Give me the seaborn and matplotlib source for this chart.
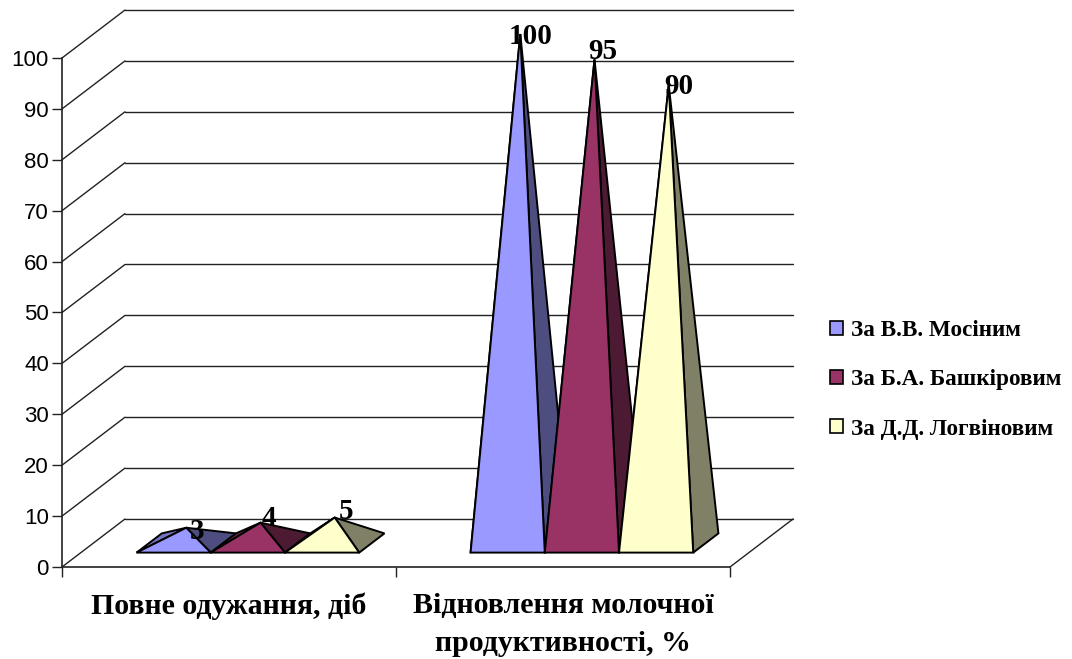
# -*- coding: utf-8 -*-
import matplotlib
matplotlib.use('Agg')
import matplotlib.pyplot as plt
import seaborn as sns
import pandas as pd
from matplotlib.patches import Patch, Polygon

categories = ['Повне одужання, діб', 'Відновлення молочної\nпродуктивності, %']
authors = ['За В.В. Мосіним', 'За Б.А. Башкіровим', 'За Д.Д. Логвіновим']
mosin = [3, 100]
bashkirov = [4, 95]
logvinov = [5, 90]
yticks = [0, 10, 20, 30, 40, 50, 60, 70, 80, 90, 100]

front_cols = ['#9999FF', '#993366', '#FFFFCC']
left_cols = ['#7373BF', '#73264D', '#BFBF99']
right_cols = ['#4D4D80', '#4D1A33', '#808066']

# label nudges in pixels from the apex, same order as bars are read
nudges = [(11, -4), (10, -3), (8, 4), (8, 8), (11, 6), (10, -2)]

# size of the 3D depth, in axis units
DX = 63 / 334
DY = 48 / 5.09

rows = []
for name, vals in zip(authors, [mosin, bashkirov, logvinov]):
    for cat, v in zip(categories, vals):
        rows.append({'cat': cat, 'author': name, 'value': v})
df = pd.DataFrame(rows)

sns.set_theme(style='ticks')
plt.rcParams['font.family'] = ['Liberation Serif', 'DejaVu Serif']

fig = plt.figure(figsize=(10.72, 6.59), dpi=100)
ax = fig.add_axes([62 / 1072, (659 - 567) / 659, 668 / 1072, 509 / 659])
ax.patch.set_alpha(0)

# seaborn lays out the bars, then they get redrawn as pyramids
sns.barplot(data=df, x='cat', y='value', hue='author', order=categories,
            hue_order=authors, width=2 / 3, gap=0, legend=False, ax=ax)
bars = [b for b in ax.patches]
ax.set_xlim(-0.5, 1.5)
ax.set_ylim(0, 100)

line = dict(color='#222222', lw=1, clip_on=False, zorder=1)
for t in yticks:
    ax.plot([-0.5, -0.5 + DX], [t, t + DY], **line)
    ax.plot([-0.5 + DX, 1.5 + DX], [t + DY, t + DY], **line)
ax.plot([1.5, 1.5 + DX], [0, DY], **line)

for i, b in enumerate(bars):
    b.set_visible(False)
    k = i // 2
    x0 = b.get_x() + 0.3 * DX
    x1 = x0 + b.get_width()
    v = b.get_height()
    y0 = 0.3 * DY
    sx = 0.4 * DX
    sy = 0.4 * DY
    apex = ((x0 + x1) / 2 + sx / 2, y0 + sy / 2 + v)
    z = 3 + k
    faces = [([(x0, y0), (x0 + sx, y0 + sy), apex], left_cols[k]),
             ([(x1, y0), (x1 + sx, y0 + sy), apex], right_cols[k]),
             ([(x0, y0), (x1, y0), apex], front_cols[k])]
    for pts, col in faces:
        ax.add_patch(Polygon(pts, closed=True, facecolor=col, edgecolor='black',
                             lw=1.4, joinstyle='miter', clip_on=False, zorder=z))
    nx, ny = nudges[i]
    ax.annotate(str(int(v)), xy=apex, xytext=(nx * 0.72, ny * 0.72),
                textcoords='offset points', ha='center', va='center',
                fontsize=21, fontweight='bold', color='black',
                annotation_clip=False, zorder=10)

sns.despine(ax=ax)
for s in ['left', 'bottom']:
    ax.spines[s].set_color('#222222')
    ax.spines[s].set_linewidth(1.2)

ax.set_xlabel('')
ax.set_ylabel('')
ax.set_yticks(yticks)
ax.set_yticklabels([str(t) for t in yticks], fontfamily='Liberation Sans', fontsize=16)
ax.tick_params(axis='y', length=7, width=1, color='#222222', pad=2.5, labelcolor='black')
ax.set_xticks([0, 1])
ax.set_xticklabels(categories, fontsize=21.5, fontweight='bold', linespacing=1.53)
ax.set_xticks([-0.5, 0.5, 1.5], minor=True)
ax.tick_params(axis='x', which='major', length=0, pad=18, labelcolor='black')
ax.tick_params(axis='x', which='minor', length=7, width=1, color='#222222')

handles = [Patch(facecolor=c, edgecolor='black', lw=1.2) for c in front_cols]
fig.legend(handles, authors, loc='center left', bbox_to_anchor=(809 / 1072, (659 - 380) / 659),
           frameon=False, prop={'family': 'Liberation Serif', 'weight': 'bold', 'size': 16.7},
           handlelength=0.56, handleheight=0.56, handletextpad=0.35, labelspacing=1.21,
           labelcolor='black')

fig.savefig('out.png', dpi=100, facecolor='white')
plt.close('all')
